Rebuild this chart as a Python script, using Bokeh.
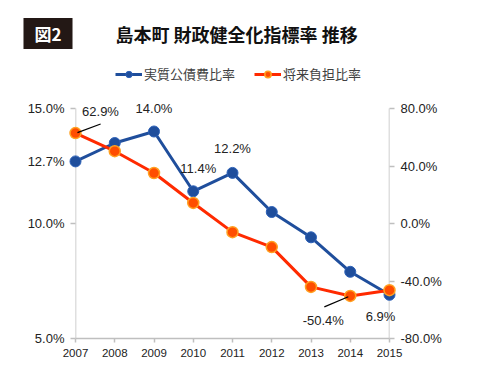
from bokeh.plotting import figure
from bokeh.models import (Range1d, LinearAxis, FixedTicker, ColumnDataSource,
                          Legend, LegendItem, PrintfTickFormatter)
from bokeh.core.properties import value
from bokeh.embed import file_html
from bokeh.resources import INLINE

years = [2007, 2008, 2009, 2010, 2011, 2012, 2013, 2014, 2015]
debt_ratio = [12.7, 13.5, 14.0, 11.4, 12.2, 10.5, 9.4, 7.9, 6.9]       # 実質公債費比率 (left axis)
burden_ratio = [62.9, 50.3, 35.1, 14.3, -6.0, -16.4, -44.1, -50.4, -46.4]  # 将来負担比率 (right axis)
left_ticks = [5.0, 10.0, 12.7, 15.0]
right_ticks = [-80.0, -40.0, 0.0, 40.0, 80.0]
series_names = ["実質公債費比率", "将来負担比率"]
title_text = "島本町 財政健全化指標率 推移"
fig_label = "図2"

# labelled points
debt_label_years = [2009, 2010, 2011, 2015]
debt_label_vals = [14.0, 11.4, 12.2, 6.9]
burden_label_years = [2007, 2014]
burden_label_vals = [62.9, -50.4]

BLUE = "#1f4e9c"
RED = "#ff2a00"
ORANGE = "#ff4d00"
AXIS = "#bfbfbf"
TXT = "#222222"
FONT = "Liberation Sans"
JFONT = "Noto Sans CJK JP"

# layout: axes span 230 px; frame extends 98 px higher to hold title and legend
L_MIN, L_MAX = left_ticks[0], left_ticks[-1]
R_MIN, R_MAX = right_ticks[0], right_ticks[-1]
AXIS_PX, TOP_PX = 230, 98
l_top = L_MAX + (L_MAX - L_MIN) * TOP_PX / AXIS_PX
r_top = R_MAX + (R_MAX - R_MIN) * TOP_PX / AXIS_PX

p = figure(width=480, height=381, output_backend="svg", toolbar_location=None,
           x_range=Range1d(years[0], years[-1]), y_range=Range1d(L_MIN, l_top),
           min_border_left=75, min_border_right=91, min_border_top=10, min_border_bottom=43)
p.extra_y_ranges = {"burden": Range1d(R_MIN, r_top)}
p.outline_line_color = None
p.grid.visible = False

p.xaxis.ticker = FixedTicker(ticks=years)
p.xaxis.formatter = PrintfTickFormatter(format="%d")
p.yaxis.ticker = FixedTicker(ticks=left_ticks)
p.yaxis.formatter = PrintfTickFormatter(format="%.1f%%")
raxis = LinearAxis(y_range_name="burden", ticker=FixedTicker(ticks=right_ticks),
                   formatter=PrintfTickFormatter(format="%.1f%%"))
p.add_layout(raxis, "right")

for ax in p.axis:
    ax.axis_line_color = AXIS
    ax.axis_line_width = 1.5
    ax.major_tick_line_color = AXIS
    ax.major_tick_line_width = 1.5
    ax.major_tick_in = 0
    ax.major_tick_out = 5
    ax.minor_tick_line_color = None
    ax.major_label_text_font = FONT
    ax.major_label_text_color = TXT
    ax.major_label_text_font_size = "13px"
    ax.major_label_standoff = 6
p.yaxis.axis_line_color = None
raxis.axis_line_color = None
p.xaxis.major_label_text_font_size = "11.5px"
p.xaxis.major_tick_out = 4
p.xaxis.major_label_standoff = 6

# vertical axis lines, only over the value span
p.segment(x0=[years[0], years[-1]], y0=[L_MIN, L_MIN], x1=[years[0], years[-1]], y1=[L_MAX, L_MAX],
          color=AXIS, line_width=1.5)

src = ColumnDataSource(dict(x=years, d=debt_ratio, b=burden_ratio))
l1 = p.line("x", "d", source=src, color=BLUE, line_width=3, level="overlay")
s1 = p.scatter("x", "d", source=src, size=11, fill_color=BLUE, line_color="#2e62b8",
               line_width=1, level="overlay")
l2 = p.line("x", "b", source=src, color=RED, line_width=3, y_range_name="burden", level="overlay")
s2 = p.scatter("x", "b", source=src, size=11, fill_color=ORANGE, line_color="#ffa020",
               line_width=1.5, y_range_name="burden", level="overlay")

# leader lines
p.segment(x0=[burden_label_years[0] + 0.05], y0=[burden_label_vals[0] + 0.3],
          x1=[burden_label_years[0] + 0.64], y1=[burden_label_vals[0] + 6.3],
          y_range_name="burden", color="black", line_width=1.2, level="overlay")
p.segment(x0=[burden_label_years[1] - 0.05], y0=[burden_label_vals[1] - 0.6],
          x1=[burden_label_years[1] - 0.66], y1=[burden_label_vals[1] - 7.6],
          y_range_name="burden", color="black", line_width=1.2, level="overlay")

dsrc = ColumnDataSource(dict(x=debt_label_years, y=debt_label_vals,
                             t=["%.1f%%" % v for v in debt_label_vals],
                             xo=[0, 5, 0, -9], yo=[-23, -23, -24, 22]))
p.text(x="x", y="y", text="t", source=dsrc, x_offset="xo", y_offset="yo",
       text_align="center", text_baseline="middle", text_font=value(FONT),
       text_font_size="13px", text_color=TXT, level="overlay")
bsrc = ColumnDataSource(dict(x=burden_label_years, y=burden_label_vals,
                             t=["%.1f%%" % v for v in burden_label_vals],
                             xo=[25, -27], yo=[-22, 25]))
p.text(x="x", y="y", text="t", source=bsrc, x_offset="xo", y_offset="yo",
       y_range_name="burden",
       text_align="center", text_baseline="middle", text_font=value(FONT),
       text_font_size="13px", text_color=TXT, level="overlay")

# title block, anchored at the top-left corner of the value area
p.text(x=[years[0]], y=[L_MAX], text=[fig_label], x_offset=-27.5, y_offset=-75,
       text_font=value(JFONT), text_font_style="bold", text_font_size="17px",
       text_color="white", text_align="center", text_baseline="middle",
       background_fill_color="#231815",
       padding=dict(left=11, right=11, top=3, bottom=3), level="overlay")
p.text(x=[years[0]], y=[L_MAX], text=[title_text], x_offset=40, y_offset=-75,
       text_font=value(JFONT), text_font_style="bold", text_font_size="18px",
       text_color="#111111", text_align="left", text_baseline="middle", level="overlay")

legend = Legend(items=[LegendItem(label=series_names[0], renderers=[l1, s1]),
                       LegendItem(label=series_names[1], renderers=[l2, s2])],
                orientation="horizontal", location=(40, 255),
                glyph_width=27, glyph_height=16, label_height=16, label_standoff=2,
                spacing=19, padding=0, margin=0, border_line_color=None,
                background_fill_color=None, label_text_font=JFONT,
                label_text_font_size="13px", label_text_color="#404040")
p.add_layout(legend, "center")

open("out.html", "w").write(file_html(p, INLINE))
